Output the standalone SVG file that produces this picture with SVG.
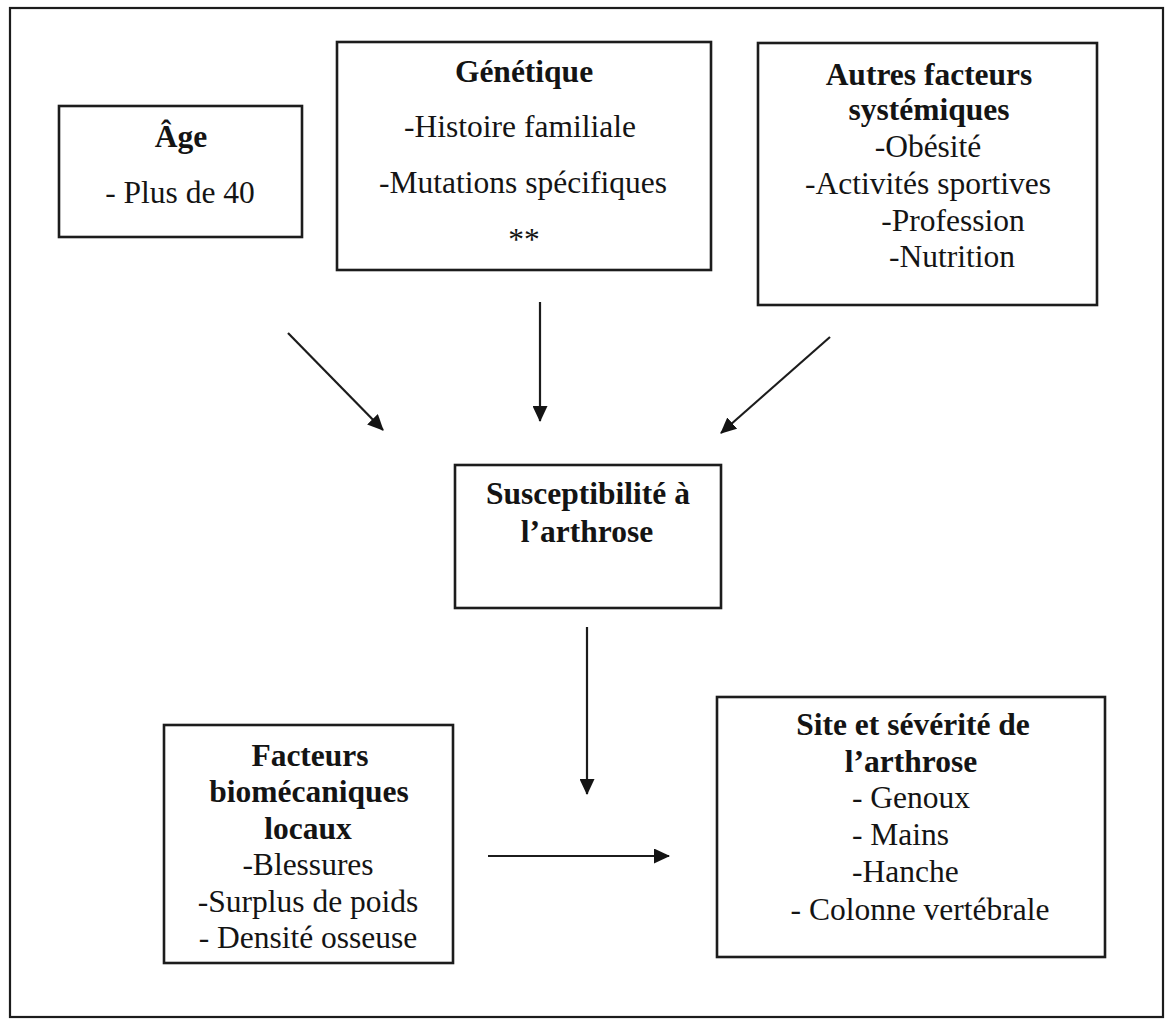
<svg xmlns="http://www.w3.org/2000/svg" width="1168" height="1019" viewBox="0 0 1168 1019">
<defs>
<style>
.box{fill:#fff;stroke:#1c1c1c;stroke-width:2.6}
.t{font-family:"Liberation Serif","Times New Roman",serif;font-size:31.5px;fill:#141414;text-anchor:middle}
.s{text-anchor:start}
.b{font-weight:bold}
.c{stroke:#1c1c1c;stroke-width:2.2;fill:none}
</style>
<marker id="ah" viewBox="0 0 16 15" refX="15" refY="7.5" markerWidth="16" markerHeight="15" markerUnits="userSpaceOnUse" orient="auto">
<path d="M0,0 L16,7.5 L0,15 z" fill="#141414"/>
</marker>
</defs>
<rect width="1168" height="1019" fill="#fff"/>
<rect x="10" y="8" width="1153" height="1009" fill="none" stroke="#1c1c1c" stroke-width="2.2"/>
<g id="age">
<rect class="box" x="59" y="106" width="243" height="131"/>
<text class="t b" x="181" y="147">Âge</text>
<text class="t" x="180" y="203">- Plus de 40</text>
</g>
<g id="genetique">
<rect class="box" x="337" y="42" width="374" height="228"/>
<text class="t b" x="524" y="82">Génétique</text>
<text class="t" x="520" y="137">-Histoire familiale</text>
<text class="t" x="523" y="193">-Mutations spécifiques</text>
<text class="t" x="524" y="250">**</text>
</g>
<g id="autres">
<rect class="box" x="758" y="43" width="339" height="262"/>
<text class="t b" x="929" y="85">Autres facteurs</text>
<text class="t b" x="929" y="120">systémiques</text>
<text class="t" x="928" y="157">-Obésité</text>
<text class="t" x="928" y="194">-Activités sportives</text>
<text class="t" x="953" y="231">-Profession</text>
<text class="t" x="952" y="267">-Nutrition</text>
</g>
<g id="susceptibilite">
<rect class="box" x="455" y="465" width="266" height="143"/>
<text class="t b" x="588" y="504">Susceptibilité à</text>
<text class="t b" x="587" y="542">l’arthrose</text>
</g>
<g id="biomecaniques">
<rect class="box" x="164" y="725" width="289" height="238"/>
<text class="t b" x="310" y="766">Facteurs</text>
<text class="t b" x="309" y="802">biomécaniques</text>
<text class="t b" x="308" y="839">locaux</text>
<text class="t" x="308" y="875">-Blessures</text>
<text class="t" x="308" y="912">-Surplus de poids</text>
<text class="t" x="308" y="948">- Densité osseuse</text>
</g>
<g id="site">
<rect class="box" x="717" y="697" width="388" height="260"/>
<text class="t b" x="913" y="735">Site et sévérité de</text>
<text class="t b" x="911" y="772">l’arthrose</text>
<text class="t s" x="852" y="808">- Genoux</text>
<text class="t s" x="852" y="845">- Mains</text>
<text class="t s" x="852" y="882">-Hanche</text>
<text class="t" x="920" y="920">- Colonne vertébrale</text>
</g>
<g id="connectors">
<line class="c" x1="288" y1="333" x2="383" y2="430" marker-end="url(#ah)"/>
<line class="c" x1="540" y1="302" x2="540" y2="421" marker-end="url(#ah)"/>
<line class="c" x1="830" y1="337" x2="721" y2="433" marker-end="url(#ah)"/>
<line class="c" x1="587" y1="627" x2="587" y2="794" marker-end="url(#ah)"/>
<line class="c" x1="488" y1="856" x2="669" y2="856" marker-end="url(#ah)"/>
</g>
</svg>
